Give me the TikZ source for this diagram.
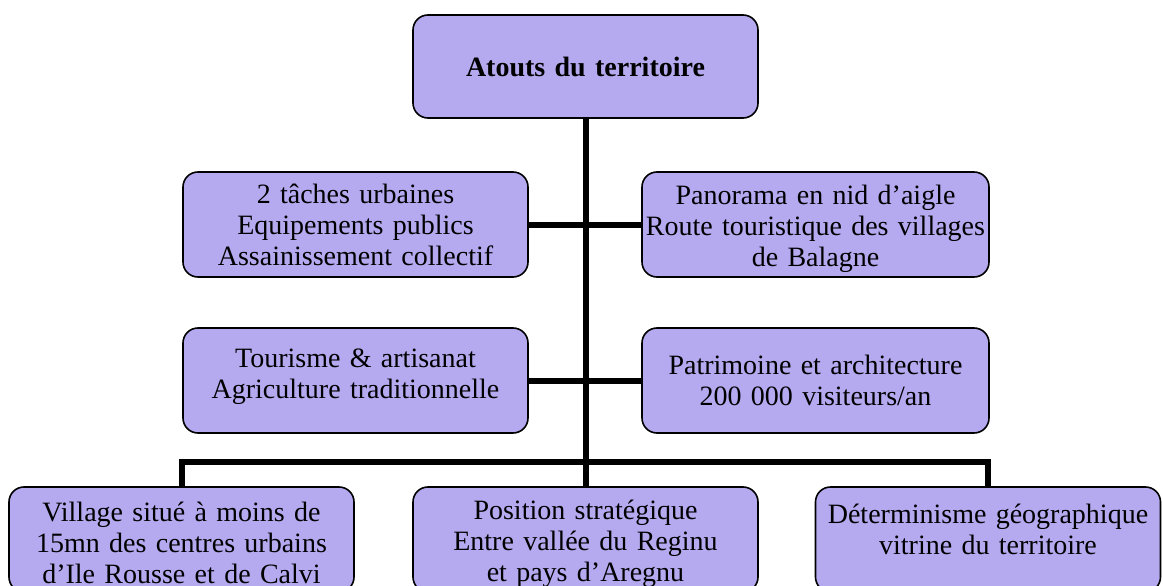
\documentclass[tikz,border=0pt]{standalone}
\usepackage{fontspec}
\setmainfont{Liberation Serif}
\usepackage{tikz}
\usetikzlibrary{positioning}

\definecolor{atoutfill}{RGB}{181,170,240}

\tikzset{
	atout/.style={draw, line width=1.6pt, rounded corners=15pt, fill=atoutfill,
		minimum width=345pt, minimum height=105pt, text width=343pt,
		align=center, inner sep=1pt, font=\fontsize{28}{31}\selectfont},
	link/.style={line width=6pt}
}

\begin{document}
\begin{tikzpicture}[x=1pt,y=-1pt]
	\useasboundingbox (0,0) rectangle (1163,586);
	% sommet
	\node[atout, minimum height=103pt] (top) at (585.5,66.5) {\textbf{Atouts du territoire}};
	% branches laterales
	\node[atout] (tache) at (355.5,224.5) {2 tâches urbaines\\Equipements publics\\Assainissement collectif};
	\node[atout, minimum width=347pt, text height=29pt] (pano) at (815.5,224.5) {Panorama en nid d’aigle\\Route touristique des villages\\de Balagne};
	\node[atout, text depth=45pt] (tour) at (355.5,380.5) {Tourisme \& artisanat\\Agriculture traditionnelle};
	\node[atout, minimum width=347pt] (patri) at (815.5,380.5) {Patrimoine et architecture\\200 000 visiteurs/an};
	% rangee du bas
	\node[atout, minimum width=343pt, text height=27pt] (vill) at (181.5,539.5) {Village situé à moins de\\15mn des centres urbains\\d’Ile Rousse et de Calvi};
	\node[atout, text height=28pt] (posi) at (585.5,539.5) {Position stratégique\\Entre vallée du Reginu\\et pays d’Aregnu};
	\node[atout, minimum width=344pt, text depth=52pt] (geo) at (988,539.5) {Déterminisme géographique\\vitrine du territoire};
	\coordinate (hub) at (585.5,462);
	% liaisons
	\draw[link] (top.south) -- (posi.north);
	\draw[link] (tache.east) -- (tache.east -| top.south);
	\draw[link] (pano.west) -- (pano.west -| top.south);
	\draw[link] (tour.east) -- (tour.east -| top.south);
	\draw[link] (patri.west) -- (patri.west -| top.south);
	\draw[link] (vill.north) |- (hub) -| (geo.north);
\end{tikzpicture}
\end{document}
